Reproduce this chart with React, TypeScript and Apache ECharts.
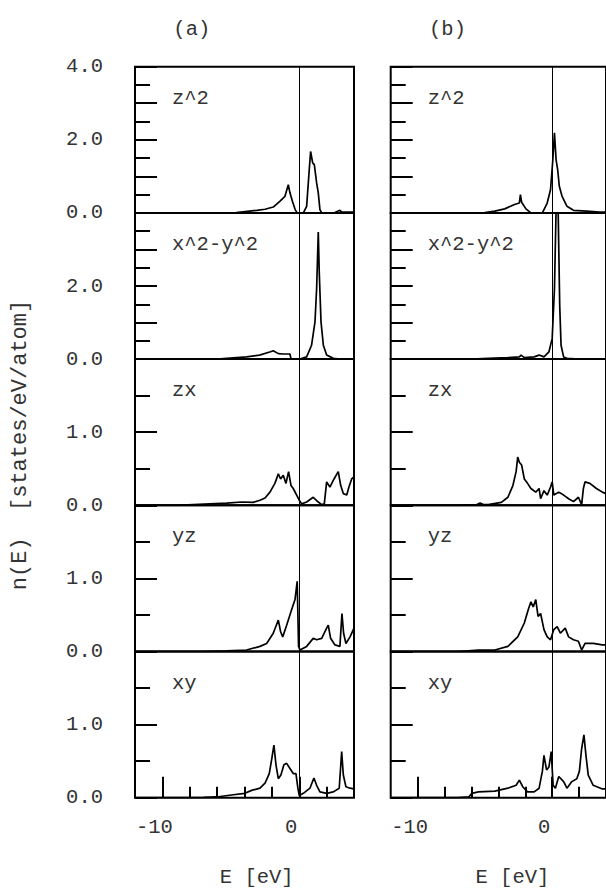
import React, { useEffect, useRef } from "react";
import * as echarts from "echarts";

// ---- data: [E (eV), n(E) (states/eV/atom)] ----
const aZ2: [number, number][] = [[-12,0],[-6,0],[-4.6,0.01],[-3.1,0.07],[-2.5,0.1],[-1.9,0.16],[-1.4,0.32],[-1.05,0.45],[-0.8,0.77],[-0.68,0.55],[-0.5,0.32],[-0.3,0.09],[-0.15,0],[0.3,0],[0.54,0.18],[0.73,1.18],[0.83,1.68],[0.98,1.37],[1.1,1.32],[1.27,0.82],[1.39,0.55],[1.51,0.09],[1.64,0],[2.6,0.01],[2.97,0.07],[3.1,0.02],[4,0.02]];
const aX2Y2: [number, number][] = [[-12,0],[-6,0],[-5.3,0.02],[-3.85,0.06],[-2.9,0.11],[-2.1,0.2],[-1.9,0.23],[-1.53,0.15],[-1.17,0.14],[-0.68,0.14],[-0.6,0],[0.05,0],[0.54,0.06],[0.9,0.38],[1.15,1.02],[1.27,1.93],[1.39,3.48],[1.46,2.39],[1.59,1.02],[1.76,0.38],[2.0,0.11],[2.49,0.02],[3,0],[4,0]];
const aZX: [number, number][] = [[-12,0],[-9,0],[-7.75,0.01],[-5.3,0.03],[-4.2,0.045],[-3.36,0.04],[-2.87,0.07],[-2.5,0.1],[-2.14,0.18],[-1.78,0.3],[-1.53,0.43],[-1.36,0.36],[-1.17,0.41],[-0.97,0.3],[-0.78,0.46],[-0.6,0.27],[-0.44,0.23],[-0.19,0.14],[0,0.07],[0.17,0.02],[0.54,0.045],[1.02,0.11],[1.39,0.045],[1.64,0.01],[1.83,0.02],[2.0,0.32],[2.24,0.25],[2.54,0.36],[2.85,0.46],[3.03,0.27],[3.22,0.16],[3.47,0.14],[3.63,0.25],[3.83,0.36],[4.0,0.39]];
const aYZ: [number, number][] = [[-12,0],[-7,0],[-5.3,0.01],[-3.85,0.02],[-2.87,0.07],[-2.38,0.11],[-1.9,0.25],[-1.53,0.43],[-1.36,0.27],[-1.21,0.2],[-0.92,0.36],[-0.56,0.57],[-0.31,0.71],[-0.15,0.96],[-0.05,0.07],[0.05,0.02],[0.54,0.07],[1.02,0.18],[1.27,0.16],[1.64,0.18],[2.0,0.32],[2.12,0.36],[2.29,0.18],[2.61,0.09],[2.97,0.07],[3.12,0.52],[3.24,0.25],[3.41,0.11],[3.71,0.2],[4.0,0.32]];
const aXY: [number, number][] = [[-12,0],[-8,0],[-7,0.005],[-6.04,0.01],[-4.82,0.04],[-3.97,0.06],[-3.48,0.1],[-2.87,0.13],[-2.5,0.2],[-2.19,0.33],[-2.0,0.54],[-1.85,0.72],[-1.7,0.45],[-1.53,0.26],[-1.34,0.31],[-1.12,0.45],[-0.92,0.47],[-0.68,0.4],[-0.44,0.33],[-0.24,0.33],[-0.1,0.13],[0,0.03],[0.3,0.06],[0.78,0.13],[1.07,0.27],[1.27,0.17],[1.51,0.08],[2.0,0.06],[2.49,0.08],[2.92,0.13],[3.1,0.63],[3.22,0.31],[3.41,0.15],[3.71,0.13],[4.0,0.12]];

const bZ2: [number, number][] = [[-12,0],[-6,0],[-5.0,0.01],[-4.26,0.05],[-3.53,0.11],[-2.8,0.23],[-2.44,0.27],[-2.36,0.5],[-2.27,0.29],[-1.95,0.11],[-1.58,0],[-0.73,0],[-0.37,0.27],[-0.12,0.64],[0.05,1.46],[0.17,2.19],[0.29,1.46],[0.41,1.18],[0.53,0.73],[0.73,0.46],[1.1,0.18],[1.58,0.07],[2.56,0.05],[3.53,0.02],[4,0.02]];
const bX2Y2: [number, number][] = [[-12,0],[-6,0],[-4.75,0.02],[-3.29,0.04],[-2.44,0.06],[-2.31,0.11],[-2.07,0.04],[-1.34,0.06],[-0.97,0.11],[-0.61,0.06],[-0.24,0.2],[0,0.56],[0.17,1.93],[0.32,4.6],[0.37,8],[0.42,4.6],[0.56,1.47],[0.66,0.38],[0.85,0.06],[1.1,0.02],[2,0],[4,0]];
const bZX: [number, number][] = [[-12,0],[-7,0],[-5.6,0.01],[-5.36,0.03],[-5.1,0.01],[-4.75,0.01],[-3.78,0.04],[-3.29,0.11],[-2.92,0.27],[-2.68,0.46],[-2.56,0.66],[-2.44,0.59],[-2.27,0.55],[-2.07,0.36],[-1.83,0.3],[-1.58,0.23],[-1.22,0.18],[-0.97,0.23],[-0.86,0.09],[-0.61,0.2],[-0.37,0.14],[-0.12,0.25],[0,0.32],[0.12,0.14],[0.49,0.18],[0.85,0.14],[1.22,0.09],[1.58,0.05],[1.95,0.11],[2.19,0.01],[2.32,0.23],[2.44,0.32],[2.8,0.3],[3.29,0.23],[3.73,0.18],[4,0.16]];
const bYZ: [number, number][] = [[-12,0],[-7,0],[-5.48,0.02],[-4.26,0.02],[-3.29,0.07],[-2.56,0.2],[-2.07,0.39],[-1.78,0.57],[-1.58,0.68],[-1.41,0.61],[-1.22,0.71],[-1.05,0.48],[-0.86,0.52],[-0.61,0.3],[-0.37,0.2],[-0.12,0.16],[0.12,0.3],[0.37,0.34],[0.61,0.25],[0.97,0.32],[1.22,0.2],[1.58,0.16],[1.95,0.14],[2.19,0.02],[2.44,0.11],[3.05,0.11],[3.73,0.09],[4,0.09]];
const bXY: [number, number][] = [[-12,0],[-7,0],[-6.2,0.01],[-5.97,0.06],[-5.48,0.08],[-4.26,0.09],[-3.29,0.13],[-2.68,0.17],[-2.44,0.24],[-2.19,0.15],[-1.83,0.08],[-1.34,0.08],[-0.97,0.13],[-0.73,0.36],[-0.61,0.58],[-0.42,0.38],[-0.24,0.42],[-0.07,0.63],[0.07,0.17],[0.24,0.13],[0.49,0.29],[0.85,0.22],[1.1,0.13],[1.46,0.22],[1.83,0.26],[2.02,0.36],[2.19,0.67],[2.36,0.86],[2.51,0.58],[2.68,0.31],[3.05,0.17],[3.73,0.12],[4,0.12]];

const COLUMNS = [
  [aZ2, aX2Y2, aZX, aYZ, aXY],
  [bZ2, bX2Y2, bZX, bYZ, bXY],
];
const ROW_NAMES = ["z^2", "x^2-y^2", "zx", "yz", "xy"];
const PANEL_TITLES = ["(a)", "(b)"];
const Y_MAX = [4, 4, 2, 2, 2];
const Y_LABELS = [[0, 2, 4], [0, 2], [0, 1], [0, 1], [0, 1]];
const X_MIN = -12;
const X_MAX = 4;
const X_LABELS = [-10, 0];
const X_MAJOR_TICKS = [-10, 0];
const X_MINOR_TICKS = [-8, -6, -4, -2, 2];
const X_NAME = "E [eV]";
const Y_NAME = "n(E)  [states/eV/atom]";

// ---- layout ----
const COL_LEFT = [135, 390.7];
const COL_W = 219;
const ROW_TOP0 = 66.7;
const ROW_H = 146.2;
const FONT = '"Liberation Mono", "Courier New", monospace';
const FS = 20.5;
const TXT = "#333";

export default function App() {
  const ref = useRef<HTMLDivElement>(null);
  useEffect(() => {
    if (!ref.current) return;
    const chart = echarts.init(ref.current, null, { renderer: "svg" });
    const grid: any[] = [];
    const xAxis: any[] = [];
    const yAxis: any[] = [];
    const series: any[] = [];
    const graphic: any[] = [];
    const extraX: any[] = [];

    COLUMNS.forEach((col, c) => {
      col.forEach((data, r) => {
        const idx = c * 5 + r;
        const top = ROW_TOP0 + r * ROW_H;
        grid.push({
          left: COL_LEFT[c], top, width: COL_W, height: ROW_H,
          show: true, borderColor: "#000", borderWidth: 2, backgroundColor: "transparent",
          containLabel: false,
        });
        const bottom = r === 4;
        xAxis.push({
          gridIndex: idx, type: "value", min: X_MIN, max: X_MAX, position: "bottom", offset: 0,
          show: bottom,
          axisLine: { show: false, onZero: false },
          splitLine: { show: false },
          axisTick: { show: bottom, inside: true, length: 21, customValues: X_MAJOR_TICKS, lineStyle: { color: "#000", width: 2 } },
          axisLabel: {
            show: bottom, customValues: X_LABELS, margin: 19,
            fontFamily: FONT, fontSize: FS, color: TXT,
            padding: [0, 16, 0, 0],
            formatter: (v: number) => String(v),
          },
        });
        if (bottom) {
          extraX.push({
            gridIndex: idx, type: "value", min: X_MIN, max: X_MAX, position: "bottom", offset: 0,
            axisLine: { show: false, onZero: false }, splitLine: { show: false },
            axisTick: { show: true, inside: true, length: 11, customValues: X_MINOR_TICKS, lineStyle: { color: "#000", width: 2 } },
            axisLabel: { show: false },
          });
        }
        yAxis.push({
          gridIndex: idx, type: "value", min: 0, max: Y_MAX[r], interval: 1, position: "left",
          axisLine: { show: false, onZero: false },
          splitLine: { show: false },
          minorSplitLine: { show: false },
          axisTick: { show: true, inside: true, length: 22, lineStyle: { color: "#000", width: 2 } },
          minorTick: { show: true, splitNumber: 2, length: 15, lineStyle: { color: "#000", width: 2 } },
          axisLabel: {
            show: c === 0, margin: 32, fontFamily: FONT, fontSize: FS, color: TXT,
            showMinLabel: true, showMaxLabel: true, hideOverlap: false,
            formatter: (v: number) => (Y_LABELS[r].includes(v) ? v.toFixed(1) : ""),
          },
        });
        series.push({
          type: "line", xAxisIndex: idx, yAxisIndex: idx, data,
          showSymbol: false, symbol: "none", clip: true,
          lineStyle: { color: "#000", width: 1.7 },
          markLine: {
            silent: true, symbol: "none", label: { show: false },
            lineStyle: { color: "#000", width: 1, type: "solid" },
            data: [{ xAxis: 0 }],
          },
        });
        graphic.push({
          type: "text", left: COL_LEFT[c] + 37, top: top + 21,
          style: { text: ROW_NAMES[r], font: `${FS}px ${FONT}`, fill: TXT },
        });
      });
      graphic.push({
        type: "text", x: COL_LEFT[c] + 56.8, y: 29,
        style: { text: PANEL_TITLES[c], font: `${FS}px ${FONT}`, fill: TXT, align: "center", verticalAlign: "middle" },
      });
      graphic.push({
        type: "text", x: COL_LEFT[c] + 121.7, y: 877,
        style: { text: X_NAME, font: `${FS}px ${FONT}`, fill: TXT, align: "center", verticalAlign: "middle" },
      });
    });
    graphic.push({
      type: "text", x: 20, y: 445, rotation: Math.PI / 2,
      style: { text: Y_NAME, font: `22px ${FONT}`, fill: TXT, align: "center", verticalAlign: "middle" },
    });

    chart.setOption({
      animation: false,
      backgroundColor: "#fff",
      grid,
      xAxis: [...xAxis, ...extraX],
      yAxis,
      series,
      graphic,
    });
    return () => chart.dispose();
  }, []);
  return <div ref={ref} style={{ position: "absolute", left: 0, top: 0, width: 606, height: 891 }} />;
}
